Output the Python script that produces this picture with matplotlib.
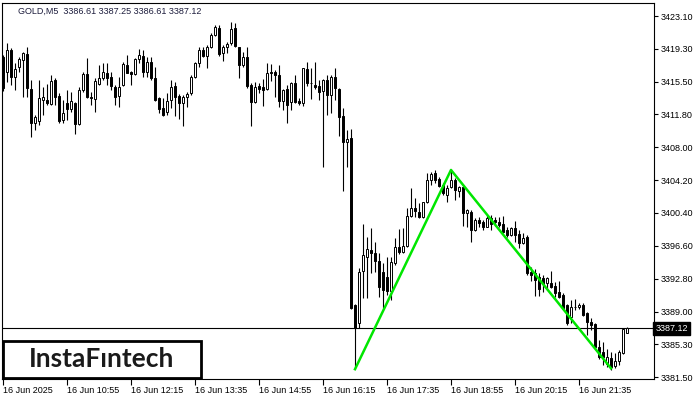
import matplotlib
matplotlib.use("Agg")
import matplotlib.pyplot as plt
from matplotlib.patches import Rectangle

# GOLD M5, 16 Jun 2025, 09:35 .. 22:35 (one row per 5 min bar)
opens = [3418.41, 3416.69, 3419.18, 3416.11, 3417.26, 3418.03, 3418.72, 3414.65, 3410.81, 3411.0,
         3413.42, 3413.42, 3412.96, 3415.73, 3413.88, 3411.12, 3413.11, 3412.35, 3413.04, 3410.62,
         3414.57, 3416.42, 3413.73, 3413.5, 3415.26, 3415.92, 3416.57, 3416.11, 3414.88, 3413.88,
         3415.15, 3417.45, 3416.61, 3416.42, 3418.11, 3418.49, 3416.69, 3417.8, 3415.92, 3413.65,
         3412.46, 3412.0, 3413.42, 3415.03, 3413.88, 3413.11, 3413.73, 3414.19, 3416.03, 3417.72,
         3419.18, 3418.53, 3419.57, 3420.91, 3421.68, 3418.8, 3419.49, 3419.95, 3421.68, 3419.49,
         3417.45, 3418.41, 3415.15, 3413.23, 3415.03, 3414.88, 3414.65, 3416.69, 3416.65, 3416.3,
         3413.34, 3414.65, 3413.23, 3415.42, 3413.34, 3413.11, 3417.0, 3415.42, 3415.15, 3415.03,
         3414.49, 3415.72, 3413.99, 3416.11, 3414.65, 3411.58, 3408.62, 3409.0, 3389.8, 3387.77,
         3393.76, 3395.37, 3396.14, 3395.83, 3394.87, 3393.64, 3392.99, 3391.45, 3394.68, 3396.45,
         3395.95, 3396.64, 3400.06, 3400.94, 3400.56, 3399.9, 3401.71, 3404.2, 3404.97, 3404.28,
         3403.63, 3402.47, 3403.36, 3404.2, 3402.97, 3403.36, 3400.44, 3400.56, 3398.44, 3399.6,
         3399.41, 3398.83, 3399.79, 3399.6, 3399.41, 3399.14, 3398.44, 3397.87, 3398.64, 3397.98,
         3396.91, 3397.6, 3393.64, 3393.45, 3393.07, 3392.87, 3392.3, 3392.38, 3391.99, 3391.34,
         3390.95, 3389.8, 3388.46, 3389.61, 3389.54, 3389.8, 3388.84, 3387.88, 3387.61, 3385.0,
         3384.43, 3383.0, 3383.66, 3382.77, 3383.39, 3384.24, 3386.61]
highs = [3418.6, 3419.95, 3419.37, 3417.65, 3418.41, 3419.0, 3419.57, 3415.73, 3411.69, 3415.73,
         3414.96, 3415.3, 3416.3, 3415.92, 3414.19, 3413.42, 3414.57, 3414.38, 3413.23, 3414.96,
         3416.69, 3418.22, 3414.38, 3415.92, 3417.45, 3417.65, 3417.65, 3416.69, 3415.15, 3416.11,
         3417.84, 3418.61, 3416.76, 3418.22, 3419.26, 3419.18, 3418.34, 3418.41, 3417.26, 3413.8,
         3413.61, 3414.19, 3415.73, 3415.53, 3414.11, 3414.0, 3414.38, 3416.3, 3417.84, 3419.49,
         3419.57, 3419.76, 3421.1, 3422.06, 3422.06, 3419.76, 3420.14, 3422.45, 3422.25, 3419.57,
         3418.99, 3419.49, 3415.34, 3415.53, 3415.34, 3415.8, 3417.65, 3417.57, 3416.88, 3417.45,
         3414.65, 3415.15, 3415.53, 3416.3, 3413.61, 3417.1, 3417.84, 3417.07, 3417.84, 3415.72,
         3415.8, 3416.3, 3416.3, 3417.07, 3414.76, 3412.46, 3409.96, 3410.04, 3389.9, 3394.03,
         3399.13, 3397.67, 3398.63, 3397.1, 3395.75, 3394.6, 3395.37, 3395.37, 3397.48, 3398.52,
         3398.63, 3400.94, 3403.24, 3402.09, 3401.59, 3401.71, 3404.97, 3405.16, 3405.36, 3404.51,
         3403.82, 3403.63, 3405.36, 3404.39, 3403.51, 3403.51, 3400.82, 3400.75, 3399.79, 3399.98,
         3399.6, 3400.17, 3400.17, 3399.98, 3399.98, 3400.06, 3398.83, 3398.83, 3399.52, 3398.44,
         3398.06, 3397.87, 3394.2, 3393.91, 3393.45, 3393.26, 3393.07, 3393.76, 3392.49, 3392.57,
         3391.22, 3389.92, 3390.38, 3390.46, 3389.99, 3389.99, 3389.03, 3388.27, 3387.77, 3385.77,
         3385.58, 3384.7, 3384.43, 3384.24, 3384.62, 3387.11, 3387.25]
lows = [3414.5, 3415.53, 3415.15, 3414.57, 3416.69, 3413.81, 3413.73, 3409.2, 3409.97, 3410.54,
        3411.69, 3412.85, 3412.85, 3412.85, 3410.81, 3410.73, 3411.12, 3412.08, 3409.5, 3410.54,
        3414.38, 3413.61, 3412.85, 3412.08, 3415.15, 3415.73, 3415.15, 3414.57, 3412.85, 3412.65,
        3415.03, 3416.49, 3415.15, 3416.3, 3417.65, 3416.11, 3416.11, 3415.73, 3413.3, 3411.9,
        3411.58, 3411.69, 3412.46, 3411.58, 3411.2, 3410.43, 3412.65, 3414.0, 3415.92, 3417.26,
        3418.41, 3417.07, 3419.37, 3420.8, 3418.49, 3417.95, 3418.8, 3419.76, 3419.57, 3415.92,
        3417.26, 3414.77, 3410.43, 3413.04, 3414.19, 3412.77, 3414.57, 3415.65, 3413.73, 3412.65,
        3412.27, 3410.81, 3412.27, 3413.04, 3412.85, 3412.77, 3415.03, 3413.5, 3414.65, 3413.42,
        3405.66, 3411.69, 3411.88, 3413.42, 3409.27, 3402.97, 3405.66, 3389.3, 3382.4, 3387.11,
        3390.57, 3390.57, 3393.45, 3393.64, 3390.76, 3389.42, 3390.95, 3390.38, 3394.41, 3395.68,
        3395.75, 3396.52, 3399.98, 3399.98, 3399.79, 3399.79, 3401.59, 3403.63, 3403.82, 3403.36,
        3402.47, 3401.71, 3403.24, 3401.9, 3402.28, 3398.9, 3398.83, 3397.1, 3398.37, 3398.83,
        3398.44, 3398.75, 3398.44, 3398.9, 3398.75, 3398.06, 3397.6, 3397.75, 3397.1, 3396.33,
        3396.83, 3393.26, 3392.61, 3390.84, 3390.84, 3391.34, 3391.53, 3391.72, 3390.69, 3390.57,
        3389.3, 3387.5, 3387.69, 3389.23, 3389.3, 3388.54, 3386.35, 3386.92, 3384.81, 3383.54,
        3382.89, 3382.7, 3382.31, 3382.51, 3382.89, 3384.16, 3386.61]
closes = [3414.77, 3419.18, 3416.11, 3416.95, 3418.11, 3418.8, 3414.77, 3410.81, 3411.5, 3413.61,
          3413.73, 3413.11, 3415.65, 3413.73, 3411.04, 3411.96, 3412.35, 3413.27, 3410.62, 3414.57,
          3416.42, 3413.73, 3413.65, 3415.65, 3415.92, 3416.65, 3415.92, 3415.03, 3413.73, 3414.96,
          3417.57, 3416.57, 3416.42, 3418.11, 3418.61, 3416.69, 3417.84, 3415.92, 3413.42, 3412.4,
          3411.69, 3413.34, 3414.88, 3413.81, 3413.11, 3413.73, 3414.11, 3416.11, 3417.72, 3419.18,
          3418.49, 3419.57, 3420.91, 3421.87, 3418.72, 3419.49, 3419.87, 3421.6, 3419.68, 3417.45,
          3418.41, 3415.03, 3413.23, 3414.88, 3414.65, 3414.57, 3416.57, 3416.57, 3416.3, 3413.34,
          3414.57, 3412.85, 3415.42, 3413.23, 3413.11, 3417.07, 3415.42, 3415.34, 3414.96, 3414.38,
          3415.72, 3413.99, 3416.11, 3414.76, 3411.5, 3408.62, 3408.89, 3389.5, 3387.16, 3393.64,
          3395.56, 3396.22, 3395.83, 3394.91, 3391.92, 3391.53, 3391.45, 3394.8, 3396.52, 3395.95,
          3396.64, 3400.06, 3400.94, 3400.67, 3399.9, 3401.63, 3404.2, 3404.89, 3404.2, 3403.51,
          3402.67, 3403.24, 3404.2, 3403.05, 3403.36, 3400.44, 3400.75, 3398.44, 3399.6, 3399.29,
          3398.83, 3399.79, 3399.14, 3399.41, 3399.02, 3398.25, 3397.87, 3398.64, 3397.87, 3396.91,
          3397.48, 3393.45, 3393.26, 3392.68, 3391.61, 3392.22, 3392.87, 3391.84, 3391.15, 3390.76,
          3389.42, 3387.69, 3389.61, 3389.54, 3389.8, 3388.65, 3387.88, 3387.5, 3385.0, 3383.85,
          3383.85, 3383.77, 3382.7, 3383.39, 3384.43, 3386.99, 3387.12]

# double top / bottom pattern drawn on the chart (bar index, price)
pattern_bars = [88, 112, 152]
pattern_prices = [3382.4, 3405.36, 3382.5]

last_price = 3387.12
header = "GOLD,M5  3386.61 3387.25 3386.61 3387.12"

price_ticks = [3423.10, 3419.30, 3415.50, 3411.80, 3408.00, 3404.20,
               3400.40, 3396.60, 3392.80, 3389.00, 3385.30, 3381.50]
time_tick_bars = [0, 16, 32, 48, 64, 80, 96, 112, 128, 144]
time_tick_labels = ["16 Jun 2025", "16 Jun 10:55", "16 Jun 12:15", "16 Jun 13:35",
                    "16 Jun 14:55", "16 Jun 16:15", "16 Jun 17:35", "16 Jun 18:55",
                    "16 Jun 20:15", "16 Jun 21:35"]

plt.rcParams['font.family'] = ['Liberation Sans', 'DejaVu Sans']

fig = plt.figure(figsize=(7, 4), dpi=100)
ax = fig.add_axes([2 / 700, 21 / 400, 652 / 700, 376 / 400])

idx = list(range(len(opens)))
ax.vlines(idx, lows, highs, color='black', linewidth=0.8, zorder=2)
bottoms = [min(o, c) for o, c in zip(opens, closes)]
heights = [max(abs(c - o), 0.04) for o, c in zip(opens, closes)]
faces = ['white' if c >= o else 'black' for o, c in zip(opens, closes)]
ax.bar(idx, heights, bottom=bottoms, width=0.5, color=faces,
       edgecolor='black', linewidth=0.7, zorder=3)

ax.axhline(last_price, color='black', linewidth=0.8, zorder=1)
ax.plot(pattern_bars, pattern_prices, color='#00e600', linewidth=1.8, zorder=4)

ax.set_xlim(-0.25, 162.75)
ax.set_ylim(3381.27, 3424.6)

ax.yaxis.tick_right()
ax.set_yticks(price_ticks)
ax.set_yticklabels([f"{p:.2f}" for p in price_ticks])
ax.tick_params(axis='y', length=3, width=0.8, pad=2, labelsize=6.5)
ax.set_xticks(time_tick_bars)
ax.set_xticklabels(time_tick_labels, ha='left')
ax.tick_params(axis='x', length=4, width=0.8, pad=1, labelsize=6.5)
for s in ax.spines.values():
    s.set_linewidth(0.8)

ax.text(0.0245, 0.979, header, transform=ax.transAxes, fontsize=6.5,
        color='#1c1c3c', va='center', ha='left')

# current price marker on the right axis
ax.text(1.002, last_price, f"{last_price:.2f}", transform=ax.get_yaxis_transform(),
        fontsize=6.5, color='white', va='center', ha='left',
        bbox=dict(boxstyle='square,pad=0.2', facecolor='black', edgecolor='black'))

# logo
fig.add_artist(Rectangle((3 / 700, 22 / 400), 198 / 700, 37 / 400, transform=fig.transFigure,
                         facecolor='white', edgecolor='black', linewidth=2.0, zorder=10))
fig.text(102 / 700, 41 / 400, "InstaFıntech", fontsize=19, fontweight='bold',
         family=['Lato', 'DejaVu Sans'], color='#1a1a1a', ha='center', va='center', zorder=11)

fig.savefig("out.png", dpi=100)
